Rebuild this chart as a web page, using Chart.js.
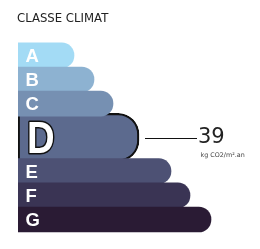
<!DOCTYPE html>
<html>
<head>
<meta charset="utf-8">
<script src="https://cdn.jsdelivr.net/npm/chart.js@4/dist/chart.umd.min.js"></script>
<style>
html,body{margin:0;padding:0;background:#fff;}
#wrap{width:260px;height:249px;}
</style>
</head>
<body>
<div id="wrap"><canvas id="c" width="260" height="249"></canvas></div>
<script>
// ---- data ----
const chartTitle = 'CLASSE CLIMAT';
const categories = ['A', 'B', 'C', 'D', 'E', 'F', 'G'];
const barLengths = [56, 76, 95, 121, 153, 172, 193];
const activeClass = 'D';
const measuredValue = 39;
const unitLabel = 'kg CO2/m².an';

// ---- styles ----
const classColors = ['#a3dbf5', '#8db2d1', '#7690b2', '#5c6a8e', '#4d5174', '#3a3454', '#2a1b34'];
const normalThickness = 25, activeThickness = 48, gap = 4, firstTop = 29;

// layout positions (pixel-based index axis)
const activeIdx = categories.indexOf(activeClass);
const centers = [];
let cursor = firstTop;
categories.forEach((c, i) => {
  const t = i === activeIdx ? activeThickness : normalThickness;
  centers.push(cursor + t / 2);
  cursor += t + gap;
});

const normalData = [], normalColors = [], normalLabels = [];
categories.forEach((c, i) => {
  if (i === activeIdx) return;
  normalData.push({x: barLengths[i], y: centers[i]});
  normalColors.push(classColors[i]);
  normalLabels.push(c);
});

const labelPlugin = {
  id: 'labels',
  afterDatasetsDraw(chart) {
    const ctx = chart.ctx;
    ctx.save();
    // title
    ctx.fillStyle = '#222';
    ctx.font = '11.7px "DejaVu Sans", Verdana, sans-serif';
    ctx.textBaseline = 'alphabetic';
    ctx.textAlign = 'left';
    ctx.fillText(chartTitle, 17, 21.5);

    // normal letters
    const m0 = chart.getDatasetMeta(0);
    ctx.font = 'bold 18.5px "Liberation Sans", Arial, sans-serif';
    ctx.fillStyle = '#fff';
    m0.data.forEach((el, i) => {
      ctx.fillText(normalLabels[i], el.base + 7.5, el.y + 6.8);
    });

    // active letter
    const m1 = chart.getDatasetMeta(1);
    const d = m1.data[0];
    ctx.save();
    ctx.translate(d.base + 9, d.y + 15.8);
    ctx.scale(0.87, 1);
    ctx.font = 'bold 44px "Liberation Sans", Arial, sans-serif';
    ctx.lineWidth = 3.2;
    ctx.strokeStyle = '#111';
    ctx.lineJoin = 'round';
    ctx.strokeText(activeClass, 0, 0);
    ctx.fillStyle = '#fff';
    ctx.fillText(activeClass, 0, 0);
    ctx.restore();

    // connector line
    const ly = Math.round(d.y) + 1.5;
    ctx.beginPath();
    ctx.strokeStyle = '#111';
    ctx.lineWidth = 1;
    ctx.moveTo(d.x + 6, ly);
    ctx.lineTo(d.x + 58, ly);
    ctx.stroke();

    // value
    ctx.fillStyle = '#222';
    ctx.font = '21px "DejaVu Sans", Verdana, sans-serif';
    ctx.fillText(String(measuredValue), d.x + 59, d.y + 5.3);
    ctx.fillStyle = '#444';
    ctx.font = '6.4px "DejaVu Sans", Verdana, sans-serif';
    ctx.fillText(unitLabel, d.x + 61.5, d.y + 19.5);
    ctx.restore();
  }
};

new Chart(document.getElementById('c'), {
  type: 'bar',
  data: {
    datasets: [
      {
        data: normalData,
        backgroundColor: normalColors,
        barThickness: normalThickness,
        borderWidth: 0,
        borderSkipped: 'start',
        borderRadius: {topLeft: 0, bottomLeft: 0, topRight: 12.5, bottomRight: 12.5},
        stack: 's'
      },
      {
        data: [{x: barLengths[activeIdx], y: centers[activeIdx]}],
        backgroundColor: classColors[activeIdx],
        barThickness: activeThickness,
        borderWidth: 2.2,
        borderColor: '#111',
        borderSkipped: false,
        borderRadius: {topLeft: 3, bottomLeft: 3, topRight: 21, bottomRight: 21},
        stack: 's'
      }
    ]
  },
  options: {
    indexAxis: 'y',
    responsive: false,
    animation: false,
    devicePixelRatio: 1,
    layout: {padding: {left: 18, right: 0, top: 0, bottom: 0}},
    plugins: {legend: {display: false}, tooltip: {enabled: false}, title: {display: false}},
    scales: {
      x: {type: 'linear', min: 0, max: 242, display: false, stacked: true},
      y: {type: 'linear', min: 0, max: 249, reverse: true, display: false, stacked: true}
    }
  },
  plugins: [labelPlugin]
});
</script>
</body>
</html>
